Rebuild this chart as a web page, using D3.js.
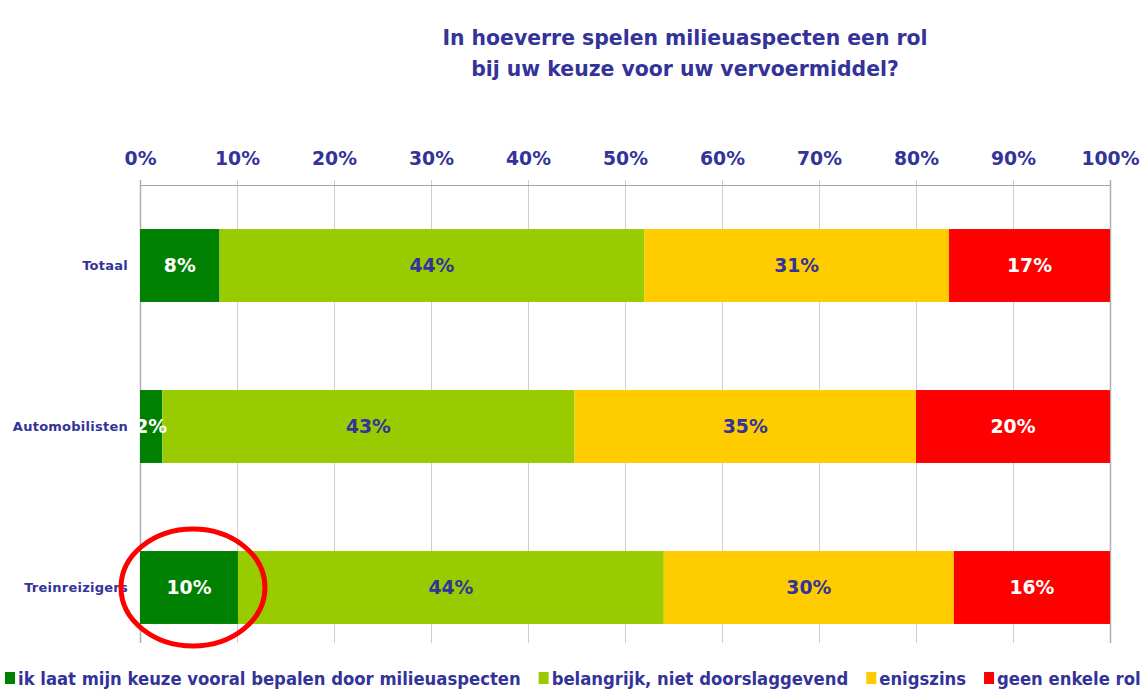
<!DOCTYPE html>
<html>
<head>
<meta charset="utf-8">
<script src="https://cdn.jsdelivr.net/npm/d3@7"></script>
<style>
  body { margin: 0; background: #fff; }
  svg { display: block; }
</style>
</head>
<body>
<svg width="1146" height="689"></svg>
<script>
var categories = ["Totaal", "Automobilisten", "Treinreizigers"];
var keys = ["sterk", "belangrijk", "enigszins", "geen"];
var legendLabels = [
  "ik laat mijn keuze vooral bepalen door milieuaspecten",
  "belangrijk, niet doorslaggevend",
  "enigszins",
  "geen enkele rol"
];
var sterk      = [8.2, 2.3, 10.1];
var belangrijk = [43.8, 42.5, 43.9];
var enigszins  = [31.4, 35.2, 29.9];
var geen       = [16.6, 20.0, 16.1];
var shownLabels = [
  ["8%", "44%", "31%", "17%"],
  ["2%", "43%", "35%", "20%"],
  ["10%", "44%", "30%", "16%"]
];
var ticks = [0, 10, 20, 30, 40, 50, 60, 70, 80, 90, 100];
var colors = ["#008000", "#99cc00", "#ffcc00", "#ff0000"];
var labelColors = ["#ffffff", "#333399", "#333399", "#ffffff"];
var blue = "#333399";

var data = categories.map(function(c, i) {
  return {cat: c, i: i, sterk: sterk[i], belangrijk: belangrijk[i], enigszins: enigszins[i], geen: geen[i]};
});

var series = d3.stack().keys(keys)(data);

var svg = d3.select("svg"),
    margin = {top: 185, right: 36, bottom: 21, left: 140},
    width = +svg.attr("width"),
    height = +svg.attr("height");

var x = d3.scaleLinear()
    .domain([0, 100])
    .range([margin.left, width - margin.right]);

var y = d3.scaleBand()
    .domain(categories)
    .range([margin.top, height - margin.bottom])
    .paddingInner(0.547)
    .paddingOuter(0.2735);

var gridBottom = 643;

// title
svg.append("text")
    .attr("x", 685)
    .attr("y", 45)
    .attr("text-anchor", "middle")
    .attr("font-family", "DejaVu Sans")
    .attr("font-weight", "bold")
    .attr("font-size", 20.4)
    .attr("fill", blue)
  .selectAll("tspan")
  .data(["In hoeverre spelen milieuaspecten een rol", "bij uw keuze voor uw vervoermiddel?"])
  .enter().append("tspan")
    .attr("x", 685)
    .attr("dy", function(d, i) { return i ? 31 : 0; })
    .text(function(d) { return d; });

// grid
svg.append("g")
  .selectAll("line")
  .data(ticks)
  .enter().append("line")
    .attr("x1", function(d) { return x(d) + 0.5; })
    .attr("x2", function(d) { return x(d) + 0.5; })
    .attr("y1", margin.top - 5)
    .attr("y2", gridBottom)
    .attr("stroke", function(d) { return d === 0 || d === 100 ? "#b0b0b0" : "#cfcfcf"; })
    .attr("stroke-width", function(d) { return d === 0 || d === 100 ? 1.5 : 1; });

svg.append("line")
    .attr("x1", x(0))
    .attr("x2", x(100) + 1)
    .attr("y1", margin.top + 0.5)
    .attr("y2", margin.top + 0.5)
    .attr("stroke", "#a6a6a6");

// top axis labels
var axis = svg.append("g")
    .attr("transform", "translate(0," + (margin.top - 10) + ")")
    .call(d3.axisTop(x).tickValues(ticks).tickFormat(function(d) { return d + "%"; }).tickSize(0).tickPadding(10));
axis.select(".domain").remove();
axis.selectAll("text")
    .attr("font-family", "DejaVu Sans")
    .attr("font-weight", "bold")
    .attr("font-size", 18.8)
    .attr("fill", blue);

// bars
svg.append("g")
  .selectAll("g")
  .data(series)
  .enter().append("g")
    .attr("fill", function(d, i) { return colors[i]; })
  .selectAll("rect")
  .data(function(d) { return d; })
  .enter().append("rect")
    .attr("x", function(d) { return x(d[0]); })
    .attr("y", function(d) { return y(d.data.cat); })
    .attr("width", function(d) { return x(d[1]) - x(d[0]); })
    .attr("height", y.bandwidth());

// value labels
svg.append("g")
  .selectAll("g")
  .data(series)
  .enter().append("g")
    .attr("fill", function(d, i) { return labelColors[i]; })
  .selectAll("text")
  .data(function(d, k) { return d.map(function(p) { return {p: p, k: k}; }); })
  .enter().append("text")
    .attr("x", function(d) { return (x(d.p[0]) + x(d.p[1])) / 2; })
    .attr("y", function(d) { return y(d.p.data.cat) + y.bandwidth() / 2; })
    .attr("dy", "0.36em")
    .attr("text-anchor", "middle")
    .attr("font-family", "DejaVu Sans")
    .attr("font-weight", "bold")
    .attr("font-size", 18.8)
    .text(function(d) { return shownLabels[d.p.data.i][d.k]; });

// category labels
svg.append("g")
  .selectAll("text")
  .data(categories)
  .enter().append("text")
    .attr("x", margin.left - 12)
    .attr("y", function(d) { return y(d) + y.bandwidth() / 2; })
    .attr("dy", "0.36em")
    .attr("text-anchor", "end")
    .attr("font-family", "DejaVu Sans")
    .attr("font-weight", "bold")
    .attr("font-size", 13)
    .attr("letter-spacing", 0.25)
    .attr("fill", blue)
    .text(function(d) { return d; });

// highlight ellipse around Treinreizigers first segment
var hl = categories[2];
svg.append("ellipse")
    .attr("cx", x(sterk[2] / 2) + 4)
    .attr("cy", y(hl) + y.bandwidth() / 2)
    .attr("rx", (x(sterk[2]) - x(0)) / 2 + 23)
    .attr("ry", y.bandwidth() / 2 + 22)
    .attr("fill", "none")
    .attr("stroke", "#ff0000")
    .attr("stroke-width", 5);

// legend
var legend = svg.append("g");
var lx = 5;
legendLabels.forEach(function(l, i) {
  legend.append("rect")
      .attr("x", lx)
      .attr("y", 672)
      .attr("width", 10)
      .attr("height", 12)
      .attr("fill", colors[i]);
  var t = legend.append("text")
      .attr("x", lx + 13)
      .attr("y", 685)
      .attr("font-family", "DejaVu Sans Condensed")
      .attr("font-stretch", "condensed")
      .attr("font-weight", "bold")
      .attr("font-size", 18.3)
      .attr("fill", blue)
      .text(l);
  lx += 13 + t.node().getComputedTextLength() + 18;
});
</script>
</body>
</html>
